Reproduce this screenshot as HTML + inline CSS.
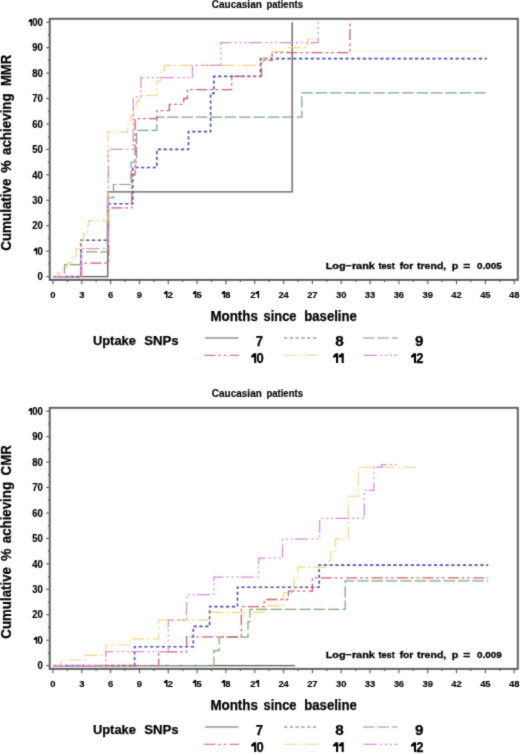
<!DOCTYPE html>
<html><head><meta charset="utf-8"><style>
html,body{margin:0;padding:0;background:#fff;}
svg{display:block;}
text{font-family:"Liberation Sans", sans-serif;}
</style></head><body>
<svg width="520" height="755" viewBox="0 0 520 755">
<defs><filter id="soft" filterUnits="userSpaceOnUse" x="0" y="0" width="520" height="755"><feConvolveMatrix order="3" kernelMatrix="0.5 1 0.5 1 6 1 0.5 1 0.5" divisor="12" edgeMode="none"/></filter><filter id="tsoft" filterUnits="userSpaceOnUse" x="0" y="0" width="520" height="755"><feConvolveMatrix order="3" kernelMatrix="0.5 1 0.5 1 8 1 0.5 1 0.5" divisor="14" edgeMode="none"/></filter></defs>
<rect width="520" height="755" fill="#fff"/>
<g filter="url(#soft)">
<line x1="350.8" y1="51.2" x2="487.3" y2="51.2" stroke="#fbf8e2" stroke-width="1.2"/>
<path d="M53.0,276.6H107.8H107.8V191.9H292.2H292.2V22.2" fill="none" stroke="#555555" stroke-width="1.3"/>
<path d="M53.0,276.6H80.9H80.9V240.2H104.9H107.8V203.8H132.7H132.7V167.5H156.8H156.8V149.4H188.5H188.5V131.6H210.6H210.6V93.4H213.9H213.9V76.4H260.5H260.5V58.6H486.8" fill="none" stroke="#4848b0" stroke-width="1.6" stroke-dasharray="3.2 2.6"/>
<path d="M53.0,276.6H64.5H64.5V264.6H80.9H80.9V251.9H105.8H107.3V197.7H113.5H113.5V184.5H131.0H131.0V162.1H136.6H136.6V130.3H156.8H156.8V117.1H301.8H301.8V92.9H488.2" fill="none" stroke="#78a478" stroke-width="1.2" stroke-dasharray="11.5 2.9"/>
<path d="M53.0,276.6H80.9H80.9V263.1H106.8H108.7V207.9H131.8H131.8V174.8H135.1H135.1V118.6H156.8H156.8V110.7H169.3H169.3V104.4H183.7H183.7V98.5H187.5H187.5V89.6H231.7H231.7V76.4H261.5H261.5V60.4H272.1H272.1V52.7H349.9H349.9V22.2" fill="none" stroke="#d05a72" stroke-width="1.3" stroke-dasharray="11 3 2.5 3 2.5 3.4"/>
<path d="M53.0,276.6H57.8V272.8H62.6V267.7H67.4V262.6H72.2V256.2H76.1V248.6H79.9V241.0H83.7V233.4H87.6V225.7H88.5V220.6H100.1H107.8V132.1H127.7H127.7V124.0H130.8H130.8V116.3H133.7H133.7V108.7H136.6H136.6V101.1H139.5H139.5V95.5H156.8H156.8V80.7H160.6H160.6V69.8H164.5H164.5V65.4H259.6H262.5V57.8H272.1V51.5H288.4H288.4V47.6H307.6H307.6V39.2H318.2" fill="none" stroke="#f3d27a" stroke-width="1.15" stroke-dasharray="12.6 3 2 3.5"/>
<path d="M53.0,276.6H81.8H81.8V248.6H108.5H108.5V149.4H133.2H133.2V97.2H140.9H140.9V77.7H192.5H192.5V65.4H220.8H220.8V42.6H318.2H318.2V22.2" fill="none" stroke="#d888d8" stroke-width="1.25" stroke-dasharray="13 3.5 2 3 2 3 2 2.2"/>
<rect x="49.7" y="18.8" width="468.09999999999997" height="261.09999999999997" fill="none" stroke="#585858" stroke-width="1.9"/>
<line x1="46.1" y1="276.6" x2="49.7" y2="276.6" stroke="#555" stroke-width="1.1"/>
<line x1="47.9" y1="263.9" x2="49.7" y2="263.9" stroke="#555" stroke-width="1.1"/>
<line x1="46.1" y1="251.2" x2="49.7" y2="251.2" stroke="#555" stroke-width="1.1"/>
<line x1="47.9" y1="238.4" x2="49.7" y2="238.4" stroke="#555" stroke-width="1.1"/>
<line x1="46.1" y1="225.7" x2="49.7" y2="225.7" stroke="#555" stroke-width="1.1"/>
<line x1="47.9" y1="213.0" x2="49.7" y2="213.0" stroke="#555" stroke-width="1.1"/>
<line x1="46.1" y1="200.3" x2="49.7" y2="200.3" stroke="#555" stroke-width="1.1"/>
<line x1="47.9" y1="187.6" x2="49.7" y2="187.6" stroke="#555" stroke-width="1.1"/>
<line x1="46.1" y1="174.8" x2="49.7" y2="174.8" stroke="#555" stroke-width="1.1"/>
<line x1="47.9" y1="162.1" x2="49.7" y2="162.1" stroke="#555" stroke-width="1.1"/>
<line x1="46.1" y1="149.4" x2="49.7" y2="149.4" stroke="#555" stroke-width="1.1"/>
<line x1="47.9" y1="136.7" x2="49.7" y2="136.7" stroke="#555" stroke-width="1.1"/>
<line x1="46.1" y1="124.0" x2="49.7" y2="124.0" stroke="#555" stroke-width="1.1"/>
<line x1="47.9" y1="111.2" x2="49.7" y2="111.2" stroke="#555" stroke-width="1.1"/>
<line x1="46.1" y1="98.5" x2="49.7" y2="98.5" stroke="#555" stroke-width="1.1"/>
<line x1="47.9" y1="85.8" x2="49.7" y2="85.8" stroke="#555" stroke-width="1.1"/>
<line x1="46.1" y1="73.1" x2="49.7" y2="73.1" stroke="#555" stroke-width="1.1"/>
<line x1="47.9" y1="60.4" x2="49.7" y2="60.4" stroke="#555" stroke-width="1.1"/>
<line x1="46.1" y1="47.6" x2="49.7" y2="47.6" stroke="#555" stroke-width="1.1"/>
<line x1="47.9" y1="34.9" x2="49.7" y2="34.9" stroke="#555" stroke-width="1.1"/>
<line x1="46.1" y1="22.2" x2="49.7" y2="22.2" stroke="#555" stroke-width="1.1"/>
<line x1="53.0" y1="279.9" x2="53.0" y2="284.3" stroke="#555" stroke-width="1.1"/>
<line x1="67.4" y1="279.9" x2="67.4" y2="282.1" stroke="#555" stroke-width="1.1"/>
<line x1="81.8" y1="279.9" x2="81.8" y2="284.3" stroke="#555" stroke-width="1.1"/>
<line x1="96.2" y1="279.9" x2="96.2" y2="282.1" stroke="#555" stroke-width="1.1"/>
<line x1="110.6" y1="279.9" x2="110.6" y2="284.3" stroke="#555" stroke-width="1.1"/>
<line x1="125.1" y1="279.9" x2="125.1" y2="282.1" stroke="#555" stroke-width="1.1"/>
<line x1="139.5" y1="279.9" x2="139.5" y2="284.3" stroke="#555" stroke-width="1.1"/>
<line x1="153.9" y1="279.9" x2="153.9" y2="282.1" stroke="#555" stroke-width="1.1"/>
<line x1="168.3" y1="279.9" x2="168.3" y2="284.3" stroke="#555" stroke-width="1.1"/>
<line x1="182.7" y1="279.9" x2="182.7" y2="282.1" stroke="#555" stroke-width="1.1"/>
<line x1="197.1" y1="279.9" x2="197.1" y2="284.3" stroke="#555" stroke-width="1.1"/>
<line x1="211.5" y1="279.9" x2="211.5" y2="282.1" stroke="#555" stroke-width="1.1"/>
<line x1="225.9" y1="279.9" x2="225.9" y2="284.3" stroke="#555" stroke-width="1.1"/>
<line x1="240.4" y1="279.9" x2="240.4" y2="282.1" stroke="#555" stroke-width="1.1"/>
<line x1="254.8" y1="279.9" x2="254.8" y2="284.3" stroke="#555" stroke-width="1.1"/>
<line x1="269.2" y1="279.9" x2="269.2" y2="282.1" stroke="#555" stroke-width="1.1"/>
<line x1="283.6" y1="279.9" x2="283.6" y2="284.3" stroke="#555" stroke-width="1.1"/>
<line x1="298.0" y1="279.9" x2="298.0" y2="282.1" stroke="#555" stroke-width="1.1"/>
<line x1="312.4" y1="279.9" x2="312.4" y2="284.3" stroke="#555" stroke-width="1.1"/>
<line x1="326.8" y1="279.9" x2="326.8" y2="282.1" stroke="#555" stroke-width="1.1"/>
<line x1="341.2" y1="279.9" x2="341.2" y2="284.3" stroke="#555" stroke-width="1.1"/>
<line x1="355.7" y1="279.9" x2="355.7" y2="282.1" stroke="#555" stroke-width="1.1"/>
<line x1="370.1" y1="279.9" x2="370.1" y2="284.3" stroke="#555" stroke-width="1.1"/>
<line x1="384.5" y1="279.9" x2="384.5" y2="282.1" stroke="#555" stroke-width="1.1"/>
<line x1="398.9" y1="279.9" x2="398.9" y2="284.3" stroke="#555" stroke-width="1.1"/>
<line x1="413.3" y1="279.9" x2="413.3" y2="282.1" stroke="#555" stroke-width="1.1"/>
<line x1="427.7" y1="279.9" x2="427.7" y2="284.3" stroke="#555" stroke-width="1.1"/>
<line x1="442.1" y1="279.9" x2="442.1" y2="282.1" stroke="#555" stroke-width="1.1"/>
<line x1="456.5" y1="279.9" x2="456.5" y2="284.3" stroke="#555" stroke-width="1.1"/>
<line x1="470.9" y1="279.9" x2="470.9" y2="282.1" stroke="#555" stroke-width="1.1"/>
<line x1="485.4" y1="279.9" x2="485.4" y2="284.3" stroke="#555" stroke-width="1.1"/>
<line x1="499.8" y1="279.9" x2="499.8" y2="282.1" stroke="#555" stroke-width="1.1"/>
<line x1="514.2" y1="279.9" x2="514.2" y2="284.3" stroke="#555" stroke-width="1.1"/>
<line x1="205" y1="338" x2="238.5" y2="338" stroke="#5c5c5c" stroke-width="1.2"/>
<line x1="284" y1="338" x2="317" y2="338" stroke="#5c5cc0" stroke-width="1.2" stroke-dasharray="3.2 2.6"/>
<line x1="363" y1="338" x2="397.5" y2="338" stroke="#7a957a" stroke-width="1.2" stroke-dasharray="11.5 2.9"/>
<line x1="204.3" y1="355.4" x2="239" y2="355.4" stroke="#d07888" stroke-width="1.2" stroke-dasharray="11 3 2.5 3 2.5 3.4"/>
<line x1="284.3" y1="355.4" x2="319" y2="355.4" stroke="#eedc9a" stroke-width="1.2" stroke-dasharray="12.6 3 2 3.5"/>
<line x1="363.5" y1="355.4" x2="397" y2="355.4" stroke="#c890d0" stroke-width="1.2" stroke-dasharray="13 3.5 2 3 2 3 2 2.2"/>
<path d="M53.0,665.6H295.1" fill="none" stroke="#555555" stroke-width="1.3"/>
<path d="M53.0,665.6H134.6H134.6V646.8H193.3H193.3V626.4H209.6H209.6V606.6H237.5H237.5V587.2H319.1H319.1V565.1H488.2" fill="none" stroke="#4848b0" stroke-width="1.6" stroke-dasharray="3.2 2.6"/>
<path d="M53.0,665.6H213.9H213.9V650.6H219.2H219.2V637.1H248.0H248.0V621.6H250.0H250.0V609.4H345.1H345.1V580.9H488.2" fill="none" stroke="#78a478" stroke-width="1.2" stroke-dasharray="11.5 2.9"/>
<path d="M53.0,665.6H158.7H158.7V651.9H186.6H186.6V636.9H241.3H241.3V606.6H264.4H264.4V599.5H288.4H288.4V591.1H312.4H312.4V577.8H488.2" fill="none" stroke="#d05a72" stroke-width="1.3" stroke-dasharray="11 3 2.5 3 2.5 3.4"/>
<path d="M53.0,665.6H60.7H60.7V660.0H85.4H85.4V655.4H105.8H105.8V645.0H129.9H129.9V638.9H158.7H158.7V620.1H210.1H210.1V612.4H265.0H265.0V605.8H283.6H283.6V592.6H294.2H294.2V577.8H298.0H298.0V567.1H327.8H327.8V560.8H330.7H330.7V551.1H335.5H335.5V538.9H348.4H348.4V496.2H358.5H358.5V467.2H416.2" fill="none" stroke="#f3d27a" stroke-width="1.15" stroke-dasharray="12.6 3 2 3.5"/>
<path d="M53.0,665.6H105.8H105.8V651.6H168.3H168.3V620.1H186.6H186.6V594.6H213.9H213.9V577.1H258.6H258.6V558.0H282.6H282.6V539.2H319.6H319.6V518.3H364.3H364.3V490.3H373.9H373.9V467.2H381.6H381.6V464.6H397.0" fill="none" stroke="#d888d8" stroke-width="1.25" stroke-dasharray="13 3.5 2 3 2 3 2 2.2"/>
<rect x="49.7" y="407.8" width="468.09999999999997" height="261.09999999999997" fill="none" stroke="#585858" stroke-width="1.9"/>
<line x1="46.1" y1="665.6" x2="49.7" y2="665.6" stroke="#555" stroke-width="1.1"/>
<line x1="47.9" y1="652.9" x2="49.7" y2="652.9" stroke="#555" stroke-width="1.1"/>
<line x1="46.1" y1="640.2" x2="49.7" y2="640.2" stroke="#555" stroke-width="1.1"/>
<line x1="47.9" y1="627.4" x2="49.7" y2="627.4" stroke="#555" stroke-width="1.1"/>
<line x1="46.1" y1="614.7" x2="49.7" y2="614.7" stroke="#555" stroke-width="1.1"/>
<line x1="47.9" y1="602.0" x2="49.7" y2="602.0" stroke="#555" stroke-width="1.1"/>
<line x1="46.1" y1="589.3" x2="49.7" y2="589.3" stroke="#555" stroke-width="1.1"/>
<line x1="47.9" y1="576.6" x2="49.7" y2="576.6" stroke="#555" stroke-width="1.1"/>
<line x1="46.1" y1="563.8" x2="49.7" y2="563.8" stroke="#555" stroke-width="1.1"/>
<line x1="47.9" y1="551.1" x2="49.7" y2="551.1" stroke="#555" stroke-width="1.1"/>
<line x1="46.1" y1="538.4" x2="49.7" y2="538.4" stroke="#555" stroke-width="1.1"/>
<line x1="47.9" y1="525.7" x2="49.7" y2="525.7" stroke="#555" stroke-width="1.1"/>
<line x1="46.1" y1="513.0" x2="49.7" y2="513.0" stroke="#555" stroke-width="1.1"/>
<line x1="47.9" y1="500.2" x2="49.7" y2="500.2" stroke="#555" stroke-width="1.1"/>
<line x1="46.1" y1="487.5" x2="49.7" y2="487.5" stroke="#555" stroke-width="1.1"/>
<line x1="47.9" y1="474.8" x2="49.7" y2="474.8" stroke="#555" stroke-width="1.1"/>
<line x1="46.1" y1="462.1" x2="49.7" y2="462.1" stroke="#555" stroke-width="1.1"/>
<line x1="47.9" y1="449.4" x2="49.7" y2="449.4" stroke="#555" stroke-width="1.1"/>
<line x1="46.1" y1="436.6" x2="49.7" y2="436.6" stroke="#555" stroke-width="1.1"/>
<line x1="47.9" y1="423.9" x2="49.7" y2="423.9" stroke="#555" stroke-width="1.1"/>
<line x1="46.1" y1="411.2" x2="49.7" y2="411.2" stroke="#555" stroke-width="1.1"/>
<line x1="53.0" y1="668.9" x2="53.0" y2="673.3" stroke="#555" stroke-width="1.1"/>
<line x1="67.4" y1="668.9" x2="67.4" y2="671.1" stroke="#555" stroke-width="1.1"/>
<line x1="81.8" y1="668.9" x2="81.8" y2="673.3" stroke="#555" stroke-width="1.1"/>
<line x1="96.2" y1="668.9" x2="96.2" y2="671.1" stroke="#555" stroke-width="1.1"/>
<line x1="110.6" y1="668.9" x2="110.6" y2="673.3" stroke="#555" stroke-width="1.1"/>
<line x1="125.1" y1="668.9" x2="125.1" y2="671.1" stroke="#555" stroke-width="1.1"/>
<line x1="139.5" y1="668.9" x2="139.5" y2="673.3" stroke="#555" stroke-width="1.1"/>
<line x1="153.9" y1="668.9" x2="153.9" y2="671.1" stroke="#555" stroke-width="1.1"/>
<line x1="168.3" y1="668.9" x2="168.3" y2="673.3" stroke="#555" stroke-width="1.1"/>
<line x1="182.7" y1="668.9" x2="182.7" y2="671.1" stroke="#555" stroke-width="1.1"/>
<line x1="197.1" y1="668.9" x2="197.1" y2="673.3" stroke="#555" stroke-width="1.1"/>
<line x1="211.5" y1="668.9" x2="211.5" y2="671.1" stroke="#555" stroke-width="1.1"/>
<line x1="225.9" y1="668.9" x2="225.9" y2="673.3" stroke="#555" stroke-width="1.1"/>
<line x1="240.4" y1="668.9" x2="240.4" y2="671.1" stroke="#555" stroke-width="1.1"/>
<line x1="254.8" y1="668.9" x2="254.8" y2="673.3" stroke="#555" stroke-width="1.1"/>
<line x1="269.2" y1="668.9" x2="269.2" y2="671.1" stroke="#555" stroke-width="1.1"/>
<line x1="283.6" y1="668.9" x2="283.6" y2="673.3" stroke="#555" stroke-width="1.1"/>
<line x1="298.0" y1="668.9" x2="298.0" y2="671.1" stroke="#555" stroke-width="1.1"/>
<line x1="312.4" y1="668.9" x2="312.4" y2="673.3" stroke="#555" stroke-width="1.1"/>
<line x1="326.8" y1="668.9" x2="326.8" y2="671.1" stroke="#555" stroke-width="1.1"/>
<line x1="341.2" y1="668.9" x2="341.2" y2="673.3" stroke="#555" stroke-width="1.1"/>
<line x1="355.7" y1="668.9" x2="355.7" y2="671.1" stroke="#555" stroke-width="1.1"/>
<line x1="370.1" y1="668.9" x2="370.1" y2="673.3" stroke="#555" stroke-width="1.1"/>
<line x1="384.5" y1="668.9" x2="384.5" y2="671.1" stroke="#555" stroke-width="1.1"/>
<line x1="398.9" y1="668.9" x2="398.9" y2="673.3" stroke="#555" stroke-width="1.1"/>
<line x1="413.3" y1="668.9" x2="413.3" y2="671.1" stroke="#555" stroke-width="1.1"/>
<line x1="427.7" y1="668.9" x2="427.7" y2="673.3" stroke="#555" stroke-width="1.1"/>
<line x1="442.1" y1="668.9" x2="442.1" y2="671.1" stroke="#555" stroke-width="1.1"/>
<line x1="456.5" y1="668.9" x2="456.5" y2="673.3" stroke="#555" stroke-width="1.1"/>
<line x1="470.9" y1="668.9" x2="470.9" y2="671.1" stroke="#555" stroke-width="1.1"/>
<line x1="485.4" y1="668.9" x2="485.4" y2="673.3" stroke="#555" stroke-width="1.1"/>
<line x1="499.8" y1="668.9" x2="499.8" y2="671.1" stroke="#555" stroke-width="1.1"/>
<line x1="514.2" y1="668.9" x2="514.2" y2="673.3" stroke="#555" stroke-width="1.1"/>
<line x1="205" y1="727.0" x2="238.5" y2="727.0" stroke="#5c5c5c" stroke-width="1.2"/>
<line x1="284" y1="727.0" x2="317" y2="727.0" stroke="#5c5cc0" stroke-width="1.2" stroke-dasharray="3.2 2.6"/>
<line x1="363" y1="727.0" x2="397.5" y2="727.0" stroke="#7a957a" stroke-width="1.2" stroke-dasharray="11.5 2.9"/>
<line x1="204.3" y1="744.4" x2="239" y2="744.4" stroke="#d07888" stroke-width="1.2" stroke-dasharray="11 3 2.5 3 2.5 3.4"/>
<line x1="284.3" y1="744.4" x2="319" y2="744.4" stroke="#eedc9a" stroke-width="1.2" stroke-dasharray="12.6 3 2 3.5"/>
<line x1="363.5" y1="744.4" x2="397" y2="744.4" stroke="#c890d0" stroke-width="1.2" stroke-dasharray="13 3.5 2 3 2 3 2 2.2"/>
</g>
<g filter="url(#tsoft)">
<text x="211.80" y="8.00" font-size="10" font-weight="bold" fill="#000" textLength="50.00" lengthAdjust="spacingAndGlyphs" stroke="#000" stroke-width="0.15">Caucasian</text>
<text x="266.40" y="8.00" font-size="10" font-weight="bold" fill="#000" textLength="36.60" lengthAdjust="spacingAndGlyphs" stroke="#000" stroke-width="0.15">patients</text>
<text x="37.45" y="280.30" font-size="10.0" font-weight="bold" fill="#000" textLength="5.30" lengthAdjust="spacingAndGlyphs" stroke="#000" stroke-width="0.15">0</text>
<polygon points="37.30,247.86 37.30,254.86 35.80,254.86 35.80,250.56 33.70,251.16 33.70,249.76 35.60,247.86" fill="#000"/><text x="37.45" y="254.86" font-size="10.0" font-weight="bold" fill="#000" textLength="5.30" lengthAdjust="spacingAndGlyphs" stroke="#000" stroke-width="0.15">0</text>
<text x="32.25" y="229.42" font-size="10.0" font-weight="bold" fill="#000" textLength="5.30" lengthAdjust="spacingAndGlyphs" stroke="#000" stroke-width="0.15">2</text><text x="37.45" y="229.42" font-size="10.0" font-weight="bold" fill="#000" textLength="5.30" lengthAdjust="spacingAndGlyphs" stroke="#000" stroke-width="0.15">0</text>
<text x="32.25" y="203.98" font-size="10.0" font-weight="bold" fill="#000" textLength="5.30" lengthAdjust="spacingAndGlyphs" stroke="#000" stroke-width="0.15">3</text><text x="37.45" y="203.98" font-size="10.0" font-weight="bold" fill="#000" textLength="5.30" lengthAdjust="spacingAndGlyphs" stroke="#000" stroke-width="0.15">0</text>
<text x="32.25" y="178.54" font-size="10.0" font-weight="bold" fill="#000" textLength="5.30" lengthAdjust="spacingAndGlyphs" stroke="#000" stroke-width="0.15">4</text><text x="37.45" y="178.54" font-size="10.0" font-weight="bold" fill="#000" textLength="5.30" lengthAdjust="spacingAndGlyphs" stroke="#000" stroke-width="0.15">0</text>
<text x="32.25" y="153.10" font-size="10.0" font-weight="bold" fill="#000" textLength="5.30" lengthAdjust="spacingAndGlyphs" stroke="#000" stroke-width="0.15">5</text><text x="37.45" y="153.10" font-size="10.0" font-weight="bold" fill="#000" textLength="5.30" lengthAdjust="spacingAndGlyphs" stroke="#000" stroke-width="0.15">0</text>
<text x="32.25" y="127.66" font-size="10.0" font-weight="bold" fill="#000" textLength="5.30" lengthAdjust="spacingAndGlyphs" stroke="#000" stroke-width="0.15">6</text><text x="37.45" y="127.66" font-size="10.0" font-weight="bold" fill="#000" textLength="5.30" lengthAdjust="spacingAndGlyphs" stroke="#000" stroke-width="0.15">0</text>
<text x="32.25" y="102.22" font-size="10.0" font-weight="bold" fill="#000" textLength="5.30" lengthAdjust="spacingAndGlyphs" stroke="#000" stroke-width="0.15">7</text><text x="37.45" y="102.22" font-size="10.0" font-weight="bold" fill="#000" textLength="5.30" lengthAdjust="spacingAndGlyphs" stroke="#000" stroke-width="0.15">0</text>
<text x="32.25" y="76.78" font-size="10.0" font-weight="bold" fill="#000" textLength="5.30" lengthAdjust="spacingAndGlyphs" stroke="#000" stroke-width="0.15">8</text><text x="37.45" y="76.78" font-size="10.0" font-weight="bold" fill="#000" textLength="5.30" lengthAdjust="spacingAndGlyphs" stroke="#000" stroke-width="0.15">0</text>
<text x="32.25" y="51.34" font-size="10.0" font-weight="bold" fill="#000" textLength="5.30" lengthAdjust="spacingAndGlyphs" stroke="#000" stroke-width="0.15">9</text><text x="37.45" y="51.34" font-size="10.0" font-weight="bold" fill="#000" textLength="5.30" lengthAdjust="spacingAndGlyphs" stroke="#000" stroke-width="0.15">0</text>
<polygon points="32.10,18.90 32.10,25.90 30.60,25.90 30.60,21.60 28.50,22.20 28.50,20.80 30.40,18.90" fill="#000"/><text x="32.25" y="25.90" font-size="10.0" font-weight="bold" fill="#000" textLength="5.30" lengthAdjust="spacingAndGlyphs" stroke="#000" stroke-width="0.15">0</text><text x="37.45" y="25.90" font-size="10.0" font-weight="bold" fill="#000" textLength="5.30" lengthAdjust="spacingAndGlyphs" stroke="#000" stroke-width="0.15">0</text>
<text x="50.37" y="297.90" font-size="9.9" font-weight="bold" fill="#000" textLength="5.25" lengthAdjust="spacingAndGlyphs" stroke="#000" stroke-width="0.15">0</text>
<text x="79.20" y="297.90" font-size="9.9" font-weight="bold" fill="#000" textLength="5.25" lengthAdjust="spacingAndGlyphs" stroke="#000" stroke-width="0.15">3</text>
<text x="108.02" y="297.90" font-size="9.9" font-weight="bold" fill="#000" textLength="5.25" lengthAdjust="spacingAndGlyphs" stroke="#000" stroke-width="0.15">6</text>
<text x="136.85" y="297.90" font-size="9.9" font-weight="bold" fill="#000" textLength="5.25" lengthAdjust="spacingAndGlyphs" stroke="#000" stroke-width="0.15">9</text>
<polygon points="167.50,290.97 167.50,297.90 166.02,297.90 166.02,293.64 163.94,294.24 163.94,292.85 165.82,290.97" fill="#000"/><text x="167.65" y="297.90" font-size="9.9" font-weight="bold" fill="#000" textLength="5.25" lengthAdjust="spacingAndGlyphs" stroke="#000" stroke-width="0.15">2</text>
<polygon points="196.33,290.97 196.33,297.90 194.84,297.90 194.84,293.64 192.76,294.24 192.76,292.85 194.65,290.97" fill="#000"/><text x="196.47" y="297.90" font-size="9.9" font-weight="bold" fill="#000" textLength="5.25" lengthAdjust="spacingAndGlyphs" stroke="#000" stroke-width="0.15">5</text>
<polygon points="225.15,290.97 225.15,297.90 223.67,297.90 223.67,293.64 221.59,294.24 221.59,292.85 223.47,290.97" fill="#000"/><text x="225.30" y="297.90" font-size="9.9" font-weight="bold" fill="#000" textLength="5.25" lengthAdjust="spacingAndGlyphs" stroke="#000" stroke-width="0.15">8</text>
<text x="250.16" y="297.90" font-size="9.9" font-weight="bold" fill="#000" textLength="5.25" lengthAdjust="spacingAndGlyphs" stroke="#000" stroke-width="0.15">2</text><polygon points="259.12,290.97 259.12,297.90 257.64,297.90 257.64,293.64 255.56,294.24 255.56,292.85 257.44,290.97" fill="#000"/>
<text x="278.39" y="297.90" font-size="9.9" font-weight="bold" fill="#000" textLength="5.25" lengthAdjust="spacingAndGlyphs" stroke="#000" stroke-width="0.15">2</text><text x="283.54" y="297.90" font-size="9.9" font-weight="bold" fill="#000" textLength="5.25" lengthAdjust="spacingAndGlyphs" stroke="#000" stroke-width="0.15">4</text>
<text x="307.22" y="297.90" font-size="9.9" font-weight="bold" fill="#000" textLength="5.25" lengthAdjust="spacingAndGlyphs" stroke="#000" stroke-width="0.15">2</text><text x="312.36" y="297.90" font-size="9.9" font-weight="bold" fill="#000" textLength="5.25" lengthAdjust="spacingAndGlyphs" stroke="#000" stroke-width="0.15">7</text>
<text x="336.04" y="297.90" font-size="9.9" font-weight="bold" fill="#000" textLength="5.25" lengthAdjust="spacingAndGlyphs" stroke="#000" stroke-width="0.15">3</text><text x="341.19" y="297.90" font-size="9.9" font-weight="bold" fill="#000" textLength="5.25" lengthAdjust="spacingAndGlyphs" stroke="#000" stroke-width="0.15">0</text>
<text x="364.86" y="297.90" font-size="9.9" font-weight="bold" fill="#000" textLength="5.25" lengthAdjust="spacingAndGlyphs" stroke="#000" stroke-width="0.15">3</text><text x="370.01" y="297.90" font-size="9.9" font-weight="bold" fill="#000" textLength="5.25" lengthAdjust="spacingAndGlyphs" stroke="#000" stroke-width="0.15">3</text>
<text x="393.69" y="297.90" font-size="9.9" font-weight="bold" fill="#000" textLength="5.25" lengthAdjust="spacingAndGlyphs" stroke="#000" stroke-width="0.15">3</text><text x="398.84" y="297.90" font-size="9.9" font-weight="bold" fill="#000" textLength="5.25" lengthAdjust="spacingAndGlyphs" stroke="#000" stroke-width="0.15">6</text>
<text x="422.51" y="297.90" font-size="9.9" font-weight="bold" fill="#000" textLength="5.25" lengthAdjust="spacingAndGlyphs" stroke="#000" stroke-width="0.15">3</text><text x="427.66" y="297.90" font-size="9.9" font-weight="bold" fill="#000" textLength="5.25" lengthAdjust="spacingAndGlyphs" stroke="#000" stroke-width="0.15">9</text>
<text x="451.34" y="297.90" font-size="9.9" font-weight="bold" fill="#000" textLength="5.25" lengthAdjust="spacingAndGlyphs" stroke="#000" stroke-width="0.15">4</text><text x="456.48" y="297.90" font-size="9.9" font-weight="bold" fill="#000" textLength="5.25" lengthAdjust="spacingAndGlyphs" stroke="#000" stroke-width="0.15">2</text>
<text x="480.16" y="297.90" font-size="9.9" font-weight="bold" fill="#000" textLength="5.25" lengthAdjust="spacingAndGlyphs" stroke="#000" stroke-width="0.15">4</text><text x="485.31" y="297.90" font-size="9.9" font-weight="bold" fill="#000" textLength="5.25" lengthAdjust="spacingAndGlyphs" stroke="#000" stroke-width="0.15">5</text>
<text x="508.98" y="297.90" font-size="9.9" font-weight="bold" fill="#000" textLength="5.25" lengthAdjust="spacingAndGlyphs" stroke="#000" stroke-width="0.15">4</text><text x="514.13" y="297.90" font-size="9.9" font-weight="bold" fill="#000" textLength="5.25" lengthAdjust="spacingAndGlyphs" stroke="#000" stroke-width="0.15">8</text>
<g transform="translate(10.8,250.40) rotate(-90)"><text x="-0.40" y="0.00" font-size="14.3" font-weight="bold" fill="#000" textLength="72.20" lengthAdjust="spacingAndGlyphs" stroke="#000" stroke-width="0.25">Cumulative</text><text x="77.60" y="0.00" font-size="14.3" font-weight="bold" fill="#000" textLength="12.40" lengthAdjust="spacingAndGlyphs" stroke="#000" stroke-width="0.25">%</text><text x="95.40" y="0.00" font-size="14.3" font-weight="bold" fill="#000" textLength="61.70" lengthAdjust="spacingAndGlyphs" stroke="#000" stroke-width="0.25">achieving</text><text x="164.30" y="0.00" font-size="14.3" font-weight="bold" fill="#000" textLength="31.40" lengthAdjust="spacingAndGlyphs" stroke="#000" stroke-width="0.25">MMR</text></g>
<text x="210.40" y="321.40" font-size="14.2" font-weight="bold" fill="#000" textLength="47.50" lengthAdjust="spacingAndGlyphs" stroke="#000" stroke-width="0.25">Months</text>
<text x="263.60" y="321.40" font-size="14.2" font-weight="bold" fill="#000" textLength="32.80" lengthAdjust="spacingAndGlyphs" stroke="#000" stroke-width="0.25">since</text>
<text x="304.20" y="321.40" font-size="14.2" font-weight="bold" fill="#000" textLength="52.70" lengthAdjust="spacingAndGlyphs" stroke="#000" stroke-width="0.25">baseline</text>
<text x="325.70" y="269.20" font-size="9.8" font-weight="bold" fill="#000" textLength="49.10" lengthAdjust="spacingAndGlyphs" stroke="#000" stroke-width="0.3">Log−rank</text>
<text x="378.50" y="269.20" font-size="9.8" font-weight="bold" fill="#000" textLength="16.20" lengthAdjust="spacingAndGlyphs" stroke="#000" stroke-width="0.3">test</text>
<text x="399.70" y="269.20" font-size="9.8" font-weight="bold" fill="#000" textLength="13.60" lengthAdjust="spacingAndGlyphs" stroke="#000" stroke-width="0.3">for</text>
<text x="417.00" y="269.20" font-size="9.8" font-weight="bold" fill="#000" textLength="29.30" lengthAdjust="spacingAndGlyphs" stroke="#000" stroke-width="0.3">trend,</text>
<text x="451.70" y="269.20" font-size="9.8" font-weight="bold" fill="#000" textLength="6.60" lengthAdjust="spacingAndGlyphs" stroke="#000" stroke-width="0.3">p</text>
<text x="463.20" y="269.20" font-size="9.8" font-weight="bold" fill="#000" textLength="7.10" lengthAdjust="spacingAndGlyphs" stroke="#000" stroke-width="0.3">=</text>
<text x="477.00" y="269.20" font-size="9.8" font-weight="bold" fill="#000" textLength="24.80" lengthAdjust="spacingAndGlyphs" stroke="#000" stroke-width="0.3">0.005</text>
<text x="92.90" y="345.30" font-size="13.6" font-weight="bold" fill="#000" textLength="43.10" lengthAdjust="spacingAndGlyphs" stroke="#000" stroke-width="0.25">Uptake</text>
<text x="144.20" y="345.30" font-size="13.6" font-weight="bold" fill="#000" textLength="34.50" lengthAdjust="spacingAndGlyphs" stroke="#000" stroke-width="0.25">SNPs</text>
<text x="255.80" y="345.90" font-size="14.3" font-weight="bold" fill="#000" textLength="7.30" lengthAdjust="spacingAndGlyphs" stroke="#000" stroke-width="0.25">7</text>
<text x="335.30" y="345.90" font-size="14.3" font-weight="bold" fill="#000" textLength="8.50" lengthAdjust="spacingAndGlyphs" stroke="#000" stroke-width="0.25">8</text>
<text x="415.10" y="345.90" font-size="14.3" font-weight="bold" fill="#000" textLength="8.50" lengthAdjust="spacingAndGlyphs" stroke="#000" stroke-width="0.25">9</text>
<polygon points="256.24,353.20 256.24,363.00 254.14,363.00 254.14,356.98 251.20,357.82 251.20,355.86 253.86,353.20" fill="#000"/><text x="256.55" y="363.00" font-size="14.0" font-weight="bold" fill="#000" textLength="7.22" lengthAdjust="spacingAndGlyphs" stroke="#000" stroke-width="0.25">0</text>
<polygon points="338.14,353.20 338.14,363.00 336.04,363.00 336.04,356.98 333.10,357.82 333.10,355.86 335.76,353.20" fill="#000"/><polygon points="343.74,353.20 343.74,363.00 341.64,363.00 341.64,356.98 338.70,357.82 338.70,355.86 341.36,353.20" fill="#000"/>
<polygon points="416.04,353.20 416.04,363.00 413.94,363.00 413.94,356.98 411.00,357.82 411.00,355.86 413.66,353.20" fill="#000"/><text x="416.35" y="363.00" font-size="14.0" font-weight="bold" fill="#000" textLength="7.22" lengthAdjust="spacingAndGlyphs" stroke="#000" stroke-width="0.25">2</text>
<text x="211.80" y="396.80" font-size="10" font-weight="bold" fill="#000" textLength="50.00" lengthAdjust="spacingAndGlyphs" stroke="#000" stroke-width="0.15">Caucasian</text>
<text x="266.40" y="396.80" font-size="10" font-weight="bold" fill="#000" textLength="36.60" lengthAdjust="spacingAndGlyphs" stroke="#000" stroke-width="0.15">patients</text>
<text x="37.45" y="669.30" font-size="10.0" font-weight="bold" fill="#000" textLength="5.30" lengthAdjust="spacingAndGlyphs" stroke="#000" stroke-width="0.15">0</text>
<polygon points="37.30,636.86 37.30,643.86 35.80,643.86 35.80,639.56 33.70,640.16 33.70,638.76 35.60,636.86" fill="#000"/><text x="37.45" y="643.86" font-size="10.0" font-weight="bold" fill="#000" textLength="5.30" lengthAdjust="spacingAndGlyphs" stroke="#000" stroke-width="0.15">0</text>
<text x="32.25" y="618.42" font-size="10.0" font-weight="bold" fill="#000" textLength="5.30" lengthAdjust="spacingAndGlyphs" stroke="#000" stroke-width="0.15">2</text><text x="37.45" y="618.42" font-size="10.0" font-weight="bold" fill="#000" textLength="5.30" lengthAdjust="spacingAndGlyphs" stroke="#000" stroke-width="0.15">0</text>
<text x="32.25" y="592.98" font-size="10.0" font-weight="bold" fill="#000" textLength="5.30" lengthAdjust="spacingAndGlyphs" stroke="#000" stroke-width="0.15">3</text><text x="37.45" y="592.98" font-size="10.0" font-weight="bold" fill="#000" textLength="5.30" lengthAdjust="spacingAndGlyphs" stroke="#000" stroke-width="0.15">0</text>
<text x="32.25" y="567.54" font-size="10.0" font-weight="bold" fill="#000" textLength="5.30" lengthAdjust="spacingAndGlyphs" stroke="#000" stroke-width="0.15">4</text><text x="37.45" y="567.54" font-size="10.0" font-weight="bold" fill="#000" textLength="5.30" lengthAdjust="spacingAndGlyphs" stroke="#000" stroke-width="0.15">0</text>
<text x="32.25" y="542.10" font-size="10.0" font-weight="bold" fill="#000" textLength="5.30" lengthAdjust="spacingAndGlyphs" stroke="#000" stroke-width="0.15">5</text><text x="37.45" y="542.10" font-size="10.0" font-weight="bold" fill="#000" textLength="5.30" lengthAdjust="spacingAndGlyphs" stroke="#000" stroke-width="0.15">0</text>
<text x="32.25" y="516.66" font-size="10.0" font-weight="bold" fill="#000" textLength="5.30" lengthAdjust="spacingAndGlyphs" stroke="#000" stroke-width="0.15">6</text><text x="37.45" y="516.66" font-size="10.0" font-weight="bold" fill="#000" textLength="5.30" lengthAdjust="spacingAndGlyphs" stroke="#000" stroke-width="0.15">0</text>
<text x="32.25" y="491.22" font-size="10.0" font-weight="bold" fill="#000" textLength="5.30" lengthAdjust="spacingAndGlyphs" stroke="#000" stroke-width="0.15">7</text><text x="37.45" y="491.22" font-size="10.0" font-weight="bold" fill="#000" textLength="5.30" lengthAdjust="spacingAndGlyphs" stroke="#000" stroke-width="0.15">0</text>
<text x="32.25" y="465.78" font-size="10.0" font-weight="bold" fill="#000" textLength="5.30" lengthAdjust="spacingAndGlyphs" stroke="#000" stroke-width="0.15">8</text><text x="37.45" y="465.78" font-size="10.0" font-weight="bold" fill="#000" textLength="5.30" lengthAdjust="spacingAndGlyphs" stroke="#000" stroke-width="0.15">0</text>
<text x="32.25" y="440.34" font-size="10.0" font-weight="bold" fill="#000" textLength="5.30" lengthAdjust="spacingAndGlyphs" stroke="#000" stroke-width="0.15">9</text><text x="37.45" y="440.34" font-size="10.0" font-weight="bold" fill="#000" textLength="5.30" lengthAdjust="spacingAndGlyphs" stroke="#000" stroke-width="0.15">0</text>
<polygon points="32.10,407.90 32.10,414.90 30.60,414.90 30.60,410.60 28.50,411.20 28.50,409.80 30.40,407.90" fill="#000"/><text x="32.25" y="414.90" font-size="10.0" font-weight="bold" fill="#000" textLength="5.30" lengthAdjust="spacingAndGlyphs" stroke="#000" stroke-width="0.15">0</text><text x="37.45" y="414.90" font-size="10.0" font-weight="bold" fill="#000" textLength="5.30" lengthAdjust="spacingAndGlyphs" stroke="#000" stroke-width="0.15">0</text>
<text x="50.37" y="686.90" font-size="9.9" font-weight="bold" fill="#000" textLength="5.25" lengthAdjust="spacingAndGlyphs" stroke="#000" stroke-width="0.15">0</text>
<text x="79.20" y="686.90" font-size="9.9" font-weight="bold" fill="#000" textLength="5.25" lengthAdjust="spacingAndGlyphs" stroke="#000" stroke-width="0.15">3</text>
<text x="108.02" y="686.90" font-size="9.9" font-weight="bold" fill="#000" textLength="5.25" lengthAdjust="spacingAndGlyphs" stroke="#000" stroke-width="0.15">6</text>
<text x="136.85" y="686.90" font-size="9.9" font-weight="bold" fill="#000" textLength="5.25" lengthAdjust="spacingAndGlyphs" stroke="#000" stroke-width="0.15">9</text>
<polygon points="167.50,679.97 167.50,686.90 166.02,686.90 166.02,682.64 163.94,683.24 163.94,681.85 165.82,679.97" fill="#000"/><text x="167.65" y="686.90" font-size="9.9" font-weight="bold" fill="#000" textLength="5.25" lengthAdjust="spacingAndGlyphs" stroke="#000" stroke-width="0.15">2</text>
<polygon points="196.33,679.97 196.33,686.90 194.84,686.90 194.84,682.64 192.76,683.24 192.76,681.85 194.65,679.97" fill="#000"/><text x="196.47" y="686.90" font-size="9.9" font-weight="bold" fill="#000" textLength="5.25" lengthAdjust="spacingAndGlyphs" stroke="#000" stroke-width="0.15">5</text>
<polygon points="225.15,679.97 225.15,686.90 223.67,686.90 223.67,682.64 221.59,683.24 221.59,681.85 223.47,679.97" fill="#000"/><text x="225.30" y="686.90" font-size="9.9" font-weight="bold" fill="#000" textLength="5.25" lengthAdjust="spacingAndGlyphs" stroke="#000" stroke-width="0.15">8</text>
<text x="250.16" y="686.90" font-size="9.9" font-weight="bold" fill="#000" textLength="5.25" lengthAdjust="spacingAndGlyphs" stroke="#000" stroke-width="0.15">2</text><polygon points="259.12,679.97 259.12,686.90 257.64,686.90 257.64,682.64 255.56,683.24 255.56,681.85 257.44,679.97" fill="#000"/>
<text x="278.39" y="686.90" font-size="9.9" font-weight="bold" fill="#000" textLength="5.25" lengthAdjust="spacingAndGlyphs" stroke="#000" stroke-width="0.15">2</text><text x="283.54" y="686.90" font-size="9.9" font-weight="bold" fill="#000" textLength="5.25" lengthAdjust="spacingAndGlyphs" stroke="#000" stroke-width="0.15">4</text>
<text x="307.22" y="686.90" font-size="9.9" font-weight="bold" fill="#000" textLength="5.25" lengthAdjust="spacingAndGlyphs" stroke="#000" stroke-width="0.15">2</text><text x="312.36" y="686.90" font-size="9.9" font-weight="bold" fill="#000" textLength="5.25" lengthAdjust="spacingAndGlyphs" stroke="#000" stroke-width="0.15">7</text>
<text x="336.04" y="686.90" font-size="9.9" font-weight="bold" fill="#000" textLength="5.25" lengthAdjust="spacingAndGlyphs" stroke="#000" stroke-width="0.15">3</text><text x="341.19" y="686.90" font-size="9.9" font-weight="bold" fill="#000" textLength="5.25" lengthAdjust="spacingAndGlyphs" stroke="#000" stroke-width="0.15">0</text>
<text x="364.86" y="686.90" font-size="9.9" font-weight="bold" fill="#000" textLength="5.25" lengthAdjust="spacingAndGlyphs" stroke="#000" stroke-width="0.15">3</text><text x="370.01" y="686.90" font-size="9.9" font-weight="bold" fill="#000" textLength="5.25" lengthAdjust="spacingAndGlyphs" stroke="#000" stroke-width="0.15">3</text>
<text x="393.69" y="686.90" font-size="9.9" font-weight="bold" fill="#000" textLength="5.25" lengthAdjust="spacingAndGlyphs" stroke="#000" stroke-width="0.15">3</text><text x="398.84" y="686.90" font-size="9.9" font-weight="bold" fill="#000" textLength="5.25" lengthAdjust="spacingAndGlyphs" stroke="#000" stroke-width="0.15">6</text>
<text x="422.51" y="686.90" font-size="9.9" font-weight="bold" fill="#000" textLength="5.25" lengthAdjust="spacingAndGlyphs" stroke="#000" stroke-width="0.15">3</text><text x="427.66" y="686.90" font-size="9.9" font-weight="bold" fill="#000" textLength="5.25" lengthAdjust="spacingAndGlyphs" stroke="#000" stroke-width="0.15">9</text>
<text x="451.34" y="686.90" font-size="9.9" font-weight="bold" fill="#000" textLength="5.25" lengthAdjust="spacingAndGlyphs" stroke="#000" stroke-width="0.15">4</text><text x="456.48" y="686.90" font-size="9.9" font-weight="bold" fill="#000" textLength="5.25" lengthAdjust="spacingAndGlyphs" stroke="#000" stroke-width="0.15">2</text>
<text x="480.16" y="686.90" font-size="9.9" font-weight="bold" fill="#000" textLength="5.25" lengthAdjust="spacingAndGlyphs" stroke="#000" stroke-width="0.15">4</text><text x="485.31" y="686.90" font-size="9.9" font-weight="bold" fill="#000" textLength="5.25" lengthAdjust="spacingAndGlyphs" stroke="#000" stroke-width="0.15">5</text>
<text x="508.98" y="686.90" font-size="9.9" font-weight="bold" fill="#000" textLength="5.25" lengthAdjust="spacingAndGlyphs" stroke="#000" stroke-width="0.15">4</text><text x="514.13" y="686.90" font-size="9.9" font-weight="bold" fill="#000" textLength="5.25" lengthAdjust="spacingAndGlyphs" stroke="#000" stroke-width="0.15">8</text>
<g transform="translate(10.8,638.30) rotate(-90)"><text x="-0.40" y="0.00" font-size="14.3" font-weight="bold" fill="#000" textLength="71.70" lengthAdjust="spacingAndGlyphs" stroke="#000" stroke-width="0.25">Cumulative</text><text x="77.20" y="0.00" font-size="14.3" font-weight="bold" fill="#000" textLength="12.50" lengthAdjust="spacingAndGlyphs" stroke="#000" stroke-width="0.25">%</text><text x="95.10" y="0.00" font-size="14.3" font-weight="bold" fill="#000" textLength="61.20" lengthAdjust="spacingAndGlyphs" stroke="#000" stroke-width="0.25">achieving</text><text x="162.90" y="0.00" font-size="14.3" font-weight="bold" fill="#000" textLength="30.20" lengthAdjust="spacingAndGlyphs" stroke="#000" stroke-width="0.25">CMR</text></g>
<text x="210.40" y="710.40" font-size="14.2" font-weight="bold" fill="#000" textLength="47.50" lengthAdjust="spacingAndGlyphs" stroke="#000" stroke-width="0.25">Months</text>
<text x="263.60" y="710.40" font-size="14.2" font-weight="bold" fill="#000" textLength="32.80" lengthAdjust="spacingAndGlyphs" stroke="#000" stroke-width="0.25">since</text>
<text x="304.20" y="710.40" font-size="14.2" font-weight="bold" fill="#000" textLength="52.70" lengthAdjust="spacingAndGlyphs" stroke="#000" stroke-width="0.25">baseline</text>
<text x="325.70" y="658.20" font-size="9.8" font-weight="bold" fill="#000" textLength="49.10" lengthAdjust="spacingAndGlyphs" stroke="#000" stroke-width="0.3">Log−rank</text>
<text x="378.50" y="658.20" font-size="9.8" font-weight="bold" fill="#000" textLength="16.20" lengthAdjust="spacingAndGlyphs" stroke="#000" stroke-width="0.3">test</text>
<text x="399.70" y="658.20" font-size="9.8" font-weight="bold" fill="#000" textLength="13.60" lengthAdjust="spacingAndGlyphs" stroke="#000" stroke-width="0.3">for</text>
<text x="417.00" y="658.20" font-size="9.8" font-weight="bold" fill="#000" textLength="29.30" lengthAdjust="spacingAndGlyphs" stroke="#000" stroke-width="0.3">trend,</text>
<text x="451.70" y="658.20" font-size="9.8" font-weight="bold" fill="#000" textLength="6.60" lengthAdjust="spacingAndGlyphs" stroke="#000" stroke-width="0.3">p</text>
<text x="463.20" y="658.20" font-size="9.8" font-weight="bold" fill="#000" textLength="7.10" lengthAdjust="spacingAndGlyphs" stroke="#000" stroke-width="0.3">=</text>
<text x="477.00" y="658.20" font-size="9.8" font-weight="bold" fill="#000" textLength="24.80" lengthAdjust="spacingAndGlyphs" stroke="#000" stroke-width="0.3">0.009</text>
<text x="92.90" y="734.30" font-size="13.6" font-weight="bold" fill="#000" textLength="43.10" lengthAdjust="spacingAndGlyphs" stroke="#000" stroke-width="0.25">Uptake</text>
<text x="144.20" y="734.30" font-size="13.6" font-weight="bold" fill="#000" textLength="34.50" lengthAdjust="spacingAndGlyphs" stroke="#000" stroke-width="0.25">SNPs</text>
<text x="255.80" y="734.90" font-size="14.3" font-weight="bold" fill="#000" textLength="7.30" lengthAdjust="spacingAndGlyphs" stroke="#000" stroke-width="0.25">7</text>
<text x="335.30" y="734.90" font-size="14.3" font-weight="bold" fill="#000" textLength="8.50" lengthAdjust="spacingAndGlyphs" stroke="#000" stroke-width="0.25">8</text>
<text x="415.10" y="734.90" font-size="14.3" font-weight="bold" fill="#000" textLength="8.50" lengthAdjust="spacingAndGlyphs" stroke="#000" stroke-width="0.25">9</text>
<polygon points="256.24,742.20 256.24,752.00 254.14,752.00 254.14,745.98 251.20,746.82 251.20,744.86 253.86,742.20" fill="#000"/><text x="256.55" y="752.00" font-size="14.0" font-weight="bold" fill="#000" textLength="7.22" lengthAdjust="spacingAndGlyphs" stroke="#000" stroke-width="0.25">0</text>
<polygon points="338.14,742.20 338.14,752.00 336.04,752.00 336.04,745.98 333.10,746.82 333.10,744.86 335.76,742.20" fill="#000"/><polygon points="343.74,742.20 343.74,752.00 341.64,752.00 341.64,745.98 338.70,746.82 338.70,744.86 341.36,742.20" fill="#000"/>
<polygon points="416.04,742.20 416.04,752.00 413.94,752.00 413.94,745.98 411.00,746.82 411.00,744.86 413.66,742.20" fill="#000"/><text x="416.35" y="752.00" font-size="14.0" font-weight="bold" fill="#000" textLength="7.22" lengthAdjust="spacingAndGlyphs" stroke="#000" stroke-width="0.25">2</text>
</g>
</svg>
</body></html>
